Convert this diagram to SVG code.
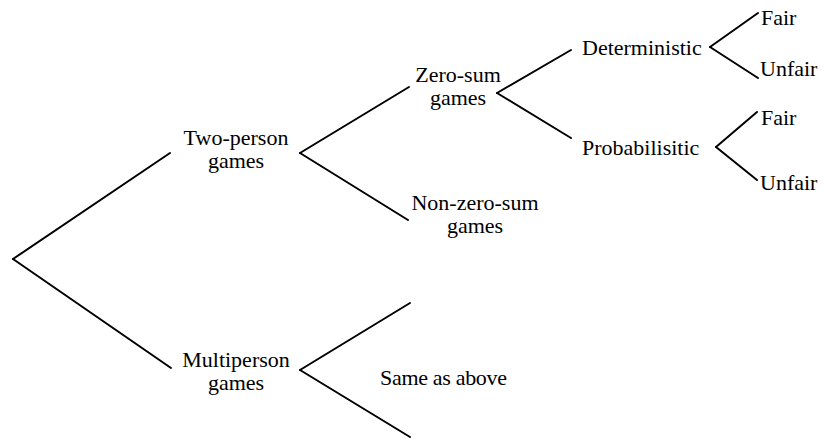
<svg xmlns="http://www.w3.org/2000/svg" width="824" height="439" viewBox="0 0 824 439">
<style>
text{font-family:'Liberation Serif','Times New Roman','DejaVu Serif',serif;font-size:22px;fill:#000}
.c{text-anchor:middle}
line{stroke:#000;stroke-width:2;stroke-linecap:round}
</style>
<rect width="824" height="439" fill="#fff"/>
<g id="connectors">
<line x1="13" y1="259" x2="170" y2="153"/>
<line x1="13" y1="259" x2="171" y2="368"/>
<line x1="300" y1="153" x2="409" y2="87"/>
<line x1="300" y1="153" x2="408" y2="220"/>
<line x1="497" y1="93" x2="571" y2="50"/>
<line x1="497" y1="93" x2="571" y2="138"/>
<line x1="710" y1="47" x2="758" y2="13"/>
<line x1="710" y1="47" x2="758" y2="78"/>
<line x1="716" y1="147" x2="757" y2="112"/>
<line x1="716" y1="147" x2="757" y2="180"/>
<line x1="300" y1="370" x2="410" y2="303"/>
<line x1="300" y1="370" x2="410" y2="437"/>
</g>
<g id="n-two"><text class="c" x="236" y="145">Two-person</text><text class="c" x="236" y="168">games</text></g>
<g id="n-multi"><text class="c" x="236" y="367">Multiperson</text><text class="c" x="236" y="390">games</text></g>
<g id="n-zero"><text class="c" x="458" y="82">Zero-sum</text><text class="c" x="458" y="105">games</text></g>
<g id="n-nonzero"><text class="c" x="475" y="210">Non-zero-sum</text><text class="c" x="475" y="233">games</text></g>
<g id="n-det"><text x="582" y="55">Deterministic</text></g>
<g id="n-prob"><text x="582" y="155">Probabilisitic</text></g>
<g id="n-fair1"><text x="761" y="25">Fair</text></g>
<g id="n-unfair1"><text x="760" y="76">Unfair</text></g>
<g id="n-fair2"><text x="761" y="125">Fair</text></g>
<g id="n-unfair2"><text x="760" y="190">Unfair</text></g>
<g id="n-same"><text x="380" y="385" textLength="127">Same as above</text></g>
</svg>
